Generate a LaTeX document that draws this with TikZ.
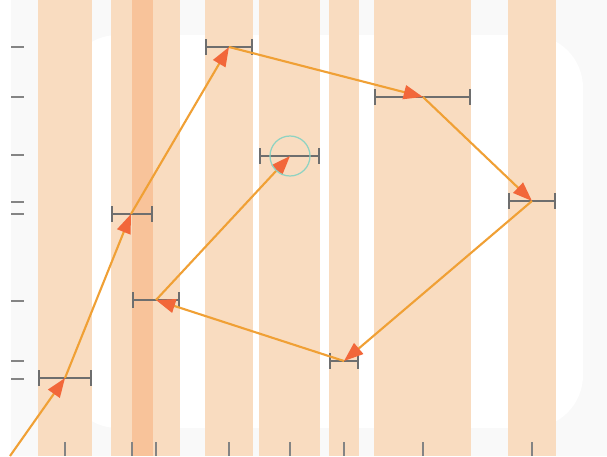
\documentclass[tikz,border=0pt]{standalone}
\usetikzlibrary{arrows.meta}
\definecolor{framegray}{HTML}{F9F9F9}
\definecolor{bandfill}{HTML}{F9DCC0}
\definecolor{banddark}{HTML}{F8C39A}
\definecolor{trackline}{HTML}{F0A035}
\definecolor{tipred}{HTML}{F2673A}
\definecolor{bargray}{HTML}{6E6E6E}
\definecolor{ringteal}{HTML}{8ED3C2}
\begin{document}
\begin{tikzpicture}[
		x=0.02cm,y=-0.02cm,
		band/.style={fill=bandfill},
		errbar/.style={draw=bargray,line width=1.1pt,{Bar[width=9pt]}-{Bar[width=9pt]}},
		hop/.style={draw=trackline,line width=1.2pt,-{Triangle[length=11pt,width=8pt,color=tipred]}},
		tickmark/.style={draw=bargray!85,line width=0.8pt}
	]
	\useasboundingbox (0,0) rectangle (607,456);
	\fill[framegray] (11,0) rectangle (607,456);
	\fill[white,rounded corners=30] (65,35) rectangle (583,428);
	\fill[band] (38,0) rectangle (92,456);
	\fill[band] (111,0) rectangle (180,456);
	\fill[banddark] (132,0) rectangle (153,456);
	\fill[band] (205,0) rectangle (253,456);
	\fill[band] (259,0) rectangle (320,456);
	\fill[band] (329,0) rectangle (359,456);
	\fill[band] (374,0) rectangle (471,456);
	\fill[band] (508,0) rectangle (556,456);
	\draw[tickmark] (11,47) -- (24,47);
	\draw[tickmark] (11,97) -- (24,97);
	\draw[tickmark] (11,155) -- (24,155);
	\draw[tickmark] (11,202) -- (24,202);
	\draw[tickmark] (11,214) -- (24,214);
	\draw[tickmark] (11,301) -- (24,301);
	\draw[tickmark] (11,361) -- (24,361);
	\draw[tickmark] (11,379) -- (24,379);
	\draw[tickmark] (65,442) -- (65,456);
	\draw[tickmark] (132,442) -- (132,456);
	\draw[tickmark] (156,442) -- (156,456);
	\draw[tickmark] (229,442) -- (229,456);
	\draw[tickmark] (290,442) -- (290,456);
	\draw[tickmark] (344,442) -- (344,456);
	\draw[tickmark] (423,442) -- (423,456);
	\draw[tickmark] (532,442) -- (532,456);
	\coordinate (start) at (10,456);
	\coordinate (a) at (65,378);
	\coordinate (b) at (131,214);
	\coordinate (c) at (229,47);
	\coordinate (d) at (423,97);
	\coordinate (e) at (532,201);
	\coordinate (f) at (344,361);
	\coordinate (g) at (156,300);
	\coordinate (h) at (290,156);
	\draw[errbar] (38,378) -- (92,378);
	\draw[errbar] (111,214) -- (153,214);
	\draw[errbar] (205,47) -- (253,47);
	\draw[errbar] (374,97) -- (471,97);
	\draw[errbar] (508,201) -- (556,201);
	\draw[errbar] (329,361) -- (359,361);
	\draw[errbar] (132,300) -- (180,300);
	\draw[errbar] (259,156) -- (320,156);
	\draw[hop] (start) -- (a);
	\draw[hop] (a) -- (b);
	\draw[hop] (b) -- (c);
	\draw[hop] (c) -- (d);
	\draw[hop] (d) -- (e);
	\draw[hop] (e) -- (f);
	\draw[hop] (f) -- (g);
	\draw[hop] (g) -- (h);
	\node[circle,draw=ringteal,line width=0.7pt,minimum size=0.8cm,inner sep=0pt] (ring) at (h) {};
\end{tikzpicture}
\end{document}
